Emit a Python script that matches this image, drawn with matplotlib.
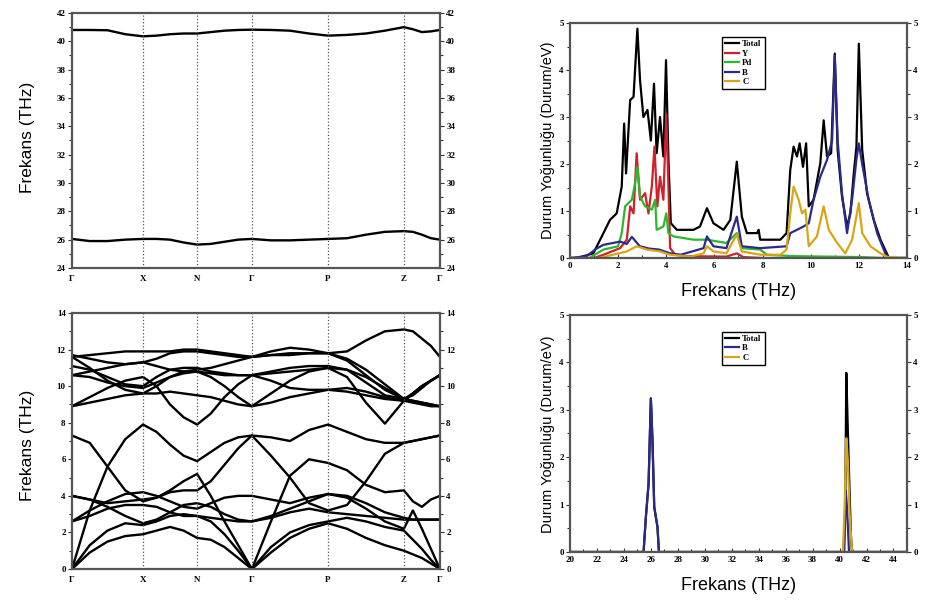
import matplotlib.pyplot as plt
from matplotlib.ticker import MultipleLocator
import numpy as np

# high symmetry path of the dispersion panels
kpoint_labels = ["Γ", "X", "N", "Γ", "P", "Z", "Γ"]
kpoint_pos = [0.0, 0.193, 0.340, 0.489, 0.696, 0.902, 1.0]
steps_per_segment = 4

# frequencies (THz) read at 4 steps per segment, 25 values per branch
high_bands = [
    [40.8, 40.8, 40.78, 40.5, 40.35, 40.4, 40.5, 40.55, 40.55, 40.65, 40.75, 40.8, 40.82,
     40.8, 40.75, 40.55, 40.4, 40.45, 40.55, 40.75, 41.0, 40.85, 40.65, 40.7, 40.8],
    [26.05, 25.9, 25.9, 26.0, 26.05, 26.05, 26.0, 25.8, 25.65, 25.7, 25.85, 26.0, 26.05,
     25.95, 25.95, 26.0, 26.05, 26.1, 26.35, 26.55, 26.6, 26.55, 26.35, 26.1, 26.0],
]

low_bands = [
    [0.0, 0.9, 1.5, 1.8, 1.9, 2.1, 2.3, 2.1, 1.7, 1.6, 1.2, 0.6, 0.0, 0.9, 1.7, 2.2, 2.5, 2.2, 1.7, 1.3, 1.0, 0.8, 0.6, 0.3, 0.0],
    [0.0, 1.3, 2.1, 2.5, 2.4, 2.6, 2.9, 3.0, 2.9, 2.6, 1.9, 1.0, 0.0, 1.2, 2.0, 2.4, 2.6, 2.8, 2.6, 2.3, 2.1, 1.6, 1.1, 0.5, 0.0],
    [0.0, 3.2, 5.6, 7.1, 7.9, 7.5, 6.8, 6.2, 5.9, 6.4, 6.9, 7.2, 7.3, 7.2, 7.0, 7.6, 7.9, 7.5, 7.1, 6.9, 6.9, 7.0, 7.1, 7.2, 7.3],
    [4.0, 3.8, 3.6, 3.7, 3.8, 3.9, 4.3, 4.8, 5.2, 4.0, 2.6, 1.3, 0.0, 2.6, 5.1, 6.0, 5.8, 5.4, 4.6, 4.2, 4.3, 3.7, 3.4, 3.8, 4.0],
    [7.3, 6.9, 5.6, 4.3, 3.7, 3.9, 4.2, 4.3, 4.3, 4.8, 5.7, 6.6, 7.3, 6.2, 5.0, 3.6, 3.2, 3.5, 4.8, 6.3, 6.9, 7.0, 7.1, 7.2, 7.3],
    [4.0, 3.8, 3.4, 2.9, 2.5, 2.7, 3.1, 3.5, 3.6, 3.4, 3.0, 2.7, 2.6, 2.8, 3.1, 3.3, 3.1, 3.0, 2.9, 2.8, 2.7, 2.7, 2.7, 2.7, 2.7],
    [2.6, 3.2, 3.7, 4.1, 4.2, 4.0, 3.7, 3.4, 3.3, 3.6, 3.9, 4.0, 4.0, 3.8, 3.6, 3.9, 4.1, 4.0, 3.6, 3.1, 2.8, 2.7, 2.7, 2.7, 2.7],
    [2.6, 2.9, 3.3, 3.5, 3.5, 3.4, 3.1, 2.9, 2.9, 2.8, 2.7, 2.6, 2.6, 2.9, 3.3, 3.7, 4.1, 3.9, 3.3, 2.6, 2.2, 3.2, 2.2, 1.1, 0.0],
    [8.9, 9.1, 9.3, 9.5, 9.6, 9.6, 9.7, 9.6, 9.5, 9.4, 9.2, 9.0, 8.9, 9.1, 9.4, 9.6, 9.8, 9.7, 9.5, 9.3, 9.2, 9.1, 9.0, 8.9, 8.9],
    [8.9, 9.4, 9.9, 10.3, 10.5, 10.0, 9.0, 8.3, 7.9, 8.5, 9.4, 10.1, 10.6, 10.7, 10.8, 10.9, 11.0, 10.5, 9.1, 7.95, 9.2, 9.6, 10.0, 10.3, 10.6],
    [10.6, 10.8, 11.0, 11.2, 11.3, 11.1, 10.9, 10.8, 10.8, 10.5, 10.0, 9.4, 8.9, 9.6, 10.3, 10.8, 11.0, 10.9, 10.2, 9.5, 9.3, 9.2, 9.1, 9.0, 8.9],
    [10.6, 10.5, 10.2, 10.0, 9.9, 10.2, 10.5, 10.7, 10.8, 10.7, 10.6, 10.6, 10.6, 10.3, 9.9, 9.8, 9.8, 9.9, 9.7, 9.4, 9.2, 9.6, 10.0, 10.3, 10.6],
    [11.1, 10.9, 10.5, 10.1, 10.0, 10.5, 10.9, 11.0, 11.0, 10.8, 10.7, 10.6, 10.6, 10.8, 11.0, 11.1, 11.1, 10.9, 10.5, 9.9, 9.3, 9.6, 10.0, 10.3, 10.6],
    [11.6, 11.0, 10.3, 9.8, 9.6, 10.0, 10.5, 10.8, 10.9, 11.0, 11.2, 11.4, 11.6, 11.9, 12.1, 12.0, 11.8, 11.5, 10.9, 10.1, 9.3, 9.2, 9.1, 9.0, 8.9],
    [11.6, 11.7, 11.8, 11.9, 11.9, 11.9, 11.9, 12.0, 12.0, 11.9, 11.8, 11.7, 11.6, 11.7, 11.7, 11.8, 11.8, 11.9, 12.5, 13.0, 13.1, 13.0, 12.6, 12.2, 11.6],
    [11.7, 11.5, 11.3, 11.2, 11.3, 11.5, 11.8, 11.9, 11.9, 11.8, 11.7, 11.6, 11.6, 11.7, 11.8, 11.8, 11.8, 11.4, 10.6, 9.8, 9.3, 9.5, 9.9, 10.3, 10.6],
]

# partial phonon DOS, (frequency THz, states/eV)
dos_total = [(0.0, 0.0), (0.3, 0.0), (0.97, 0.1), (1.39, 0.53), (1.66, 0.81), (1.94, 0.95), (2.15, 1.52),
             (2.25, 2.86), (2.33, 1.8), (2.5, 3.36), (2.64, 3.43), (2.8, 4.88), (2.91, 3.78), (3.05, 3.0),
             (3.22, 3.15), (3.36, 2.5), (3.49, 3.71), (3.6, 2.23), (3.74, 3.0), (3.88, 2.16), (3.99, 4.21),
             (4.09, 2.09), (4.19, 0.74), (4.44, 0.6), (5.13, 0.6), (5.4, 0.67), (5.69, 1.06), (5.96, 0.74),
             (6.38, 0.6), (6.66, 0.81), (6.93, 2.05), (7.14, 0.88), (7.35, 0.53), (7.77, 0.53), (7.84, 0.6),
             (7.9, 0.39), (8.74, 0.39), (9.0, 0.53), (9.15, 1.87), (9.29, 2.37), (9.43, 2.16), (9.54, 2.44),
             (9.68, 1.94), (9.81, 2.44), (9.92, 1.1), (10.12, 1.24), (10.4, 2.02), (10.54, 2.93), (10.68, 2.16),
             (10.85, 2.23), (11.0, 4.35), (11.12, 2.3), (11.3, 1.31), (11.51, 0.67), (11.65, 0.95), (11.79, 1.8),
             (11.9, 2.37), (12.0, 4.56), (12.14, 2.3), (12.34, 1.38), (12.62, 0.81), (12.9, 0.39), (13.25, 0.0),
             (14.0, 0.0)]
dos_y = [(0.0, 0.0), (1.0, 0.0), (1.39, 0.07), (2.08, 0.21), (2.36, 0.39), (2.5, 1.1), (2.64, 0.95),
         (2.77, 2.23), (2.91, 1.24), (3.12, 1.38), (3.26, 0.95), (3.4, 1.52), (3.51, 2.37), (3.63, 1.1),
         (3.74, 1.73), (3.88, 1.24), (4.0, 3.05), (4.09, 1.52), (4.16, 0.21), (4.37, 0.07), (4.85, 0.04),
         (6.5, 0.03), (6.93, 0.1), (7.2, 0.02), (8.0, 0.0), (14.0, 0.0)]
dos_pd = [(0.0, 0.0), (0.8, 0.0), (1.39, 0.18), (2.0, 0.25), (2.15, 0.53), (2.29, 1.1), (2.57, 1.24),
          (2.68, 1.52), (2.8, 1.94), (2.91, 1.31), (3.12, 1.1), (3.4, 1.03), (3.54, 1.24), (3.6, 0.6),
          (3.88, 0.67), (4.0, 0.95), (4.09, 0.53), (4.3, 0.46), (5.13, 0.39), (5.69, 0.39), (6.5, 0.32),
          (6.93, 0.53), (7.14, 0.21), (7.9, 0.18), (8.18, 0.07), (9.29, 0.04), (12.1, 0.02), (13.0, 0.0),
          (14.0, 0.0)]
dos_b = [(0.0, 0.0), (0.69, 0.04), (1.1, 0.2), (1.39, 0.28), (2.08, 0.35), (2.36, 0.3), (2.57, 0.45),
         (2.9, 0.25), (3.3, 0.2), (3.7, 0.18), (4.16, 0.1), (4.6, 0.07), (5.55, 0.21), (5.69, 0.46),
         (5.96, 0.25), (6.5, 0.21), (6.93, 0.88), (7.14, 0.25), (7.9, 0.21), (9.0, 0.25), (9.15, 0.53),
         (9.43, 0.6), (9.7, 0.67), (9.92, 0.74), (10.12, 1.24), (10.4, 1.73), (10.68, 2.09), (10.89, 2.5),
         (11.0, 4.3), (11.12, 2.5), (11.3, 1.38), (11.51, 0.53), (11.72, 1.24), (11.9, 2.1), (12.0, 2.44),
         (12.14, 2.0), (12.41, 1.24), (12.76, 0.53), (13.1, 0.1), (13.25, 0.0), (14.0, 0.0)]
dos_c = [(0.0, 0.0), (1.2, 0.0), (2.36, 0.14), (2.77, 0.25), (3.19, 0.18), (3.74, 0.14), (4.16, 0.07),
         (5.0, 0.03), (5.55, 0.1), (5.69, 0.25), (5.96, 0.14), (6.5, 0.1), (6.93, 0.5), (7.14, 0.14),
         (7.9, 0.07), (8.74, 0.07), (9.0, 0.18), (9.15, 0.95), (9.29, 1.52), (9.5, 1.24), (9.64, 0.95),
         (9.78, 1.03), (9.92, 0.25), (10.26, 0.46), (10.54, 1.1), (10.75, 0.6), (11.1, 0.32), (11.44, 0.1),
         (11.72, 0.39), (12.0, 1.17), (12.14, 0.53), (12.48, 0.25), (12.9, 0.1), (13.2, 0.02), (14.0, 0.0)]

high_total = [(20.0, 0.0), (25.46, 0.0), (25.63, 0.74), (25.83, 1.44), (26.0, 3.24), (26.12, 2.36),
              (26.25, 0.95), (26.49, 0.53), (26.6, 0.0), (40.3, 0.0), (40.42, 0.9), (40.5, 3.78),
              (40.62, 2.5), (40.75, 1.2), (40.85, 0.3), (40.92, 0.0), (45.0, 0.0)]
high_b = [(20.0, 0.0), (25.46, 0.0), (25.63, 0.74), (25.83, 1.44), (26.0, 3.24), (26.12, 2.36),
          (26.25, 0.95), (26.49, 0.53), (26.6, 0.0), (40.35, 0.0), (40.46, 1.3), (40.56, 0.9),
          (40.7, 0.0), (45.0, 0.0)]
high_c = [(20.0, 0.0), (40.25, 0.0), (40.38, 1.0), (40.5, 2.4), (40.62, 1.9), (40.75, 0.8), (40.9, 0.1),
          (40.97, 0.0), (45.0, 0.0)]

col_total = "black"
col_y = "#d0202a"
col_pd = "#2cb82c"
col_b = "#2b2a8c"
col_c = "#d9a514"

plt.rcParams["font.family"] = ["Liberation Serif", "DejaVu Serif"]
label_font = dict(family=["Liberation Sans", "DejaVu Sans"], fontweight="normal")
tick_font = dict(family=["Liberation Serif", "DejaVu Serif"], weight="bold", size=6.5)


def style_frame(ax):
    for sp in ax.spines.values():
        sp.set_color("#555555")
        sp.set_linewidth(1.6)
    ax.tick_params(which="both", direction="out", color="#333333", width=0.8,
                   left=True, right=True, labelleft=True, labelright=True, pad=1.5)
    ax.tick_params(which="major", length=3)
    ax.tick_params(which="minor", length=2)
    for lbl in ax.get_xticklabels() + ax.get_yticklabels():
        lbl.set_fontproperties(tick_font)


def draw_dispersion(ax, bands, ylo, yhi):
    kgrid = []
    for i in range(len(kpoint_pos) - 1):
        kgrid.extend(np.linspace(kpoint_pos[i], kpoint_pos[i + 1], steps_per_segment + 1)[:-1])
    kgrid.append(kpoint_pos[-1])
    for band in bands:
        ax.plot(kgrid, band, color="black", lw=1.7)
    for x in kpoint_pos[1:-1]:
        ax.axvline(x, color="#555555", ls=":", lw=0.9)
    ax.set_xlim(0, 1)
    ax.set_ylim(ylo, yhi)
    ax.set_xticks(kpoint_pos)
    ax.set_xticklabels(kpoint_labels)
    ax.yaxis.set_major_locator(MultipleLocator(2))
    ax.yaxis.set_minor_locator(MultipleLocator(1))
    style_frame(ax)
    ax.tick_params(axis="x", length=0, pad=5)


def draw_dos(ax, series, xlo, xhi, legend_y):
    for name, pts, col in series:
        f, d = zip(*pts)
        ax.plot(f, d, color=col, lw=1.6, label=name)
    ax.set_xlim(xlo, xhi)
    ax.set_ylim(0, 5)
    ax.xaxis.set_major_locator(MultipleLocator(2))
    ax.xaxis.set_minor_locator(MultipleLocator(1))
    ax.yaxis.set_major_locator(MultipleLocator(1))
    ax.yaxis.set_minor_locator(MultipleLocator(0.5))
    style_frame(ax)
    ax.tick_params(axis="x", top=False, which="both", direction="in", pad=3)
    leg = ax.legend(loc="upper left", bbox_to_anchor=(0.45, legend_y), fancybox=False,
                    edgecolor="black", framealpha=1, handlelength=1.6, handletextpad=0.4,
                    borderpad=0.35, labelspacing=0.15, borderaxespad=0,
                    prop=dict(family="Liberation Serif", weight="bold", size=6.3))
    leg.get_frame().set_linewidth(1.0)
    ax.set_xlabel("Frekans (THz)", fontsize=13, labelpad=9, **label_font)


fig = plt.figure(figsize=(9.25, 6.03), dpi=100)
ax_tl = fig.add_axes([0.0778, 0.5556, 0.3978, 0.4229])
ax_bl = fig.add_axes([0.0778, 0.0564, 0.3978, 0.4245])
ax_tr = fig.add_axes([0.6162, 0.5721, 0.3643, 0.3897])
ax_br = fig.add_axes([0.6162, 0.0846, 0.3643, 0.3930])

draw_dispersion(ax_tl, high_bands, 24, 42)
draw_dispersion(ax_bl, low_bands, 0, 14)

draw_dos(ax_tr, [("Total", dos_total, col_total), ("Y", dos_y, col_y), ("Pd", dos_pd, col_pd),
                 ("B", dos_b, col_b), ("C", dos_c, col_c)], 0, 14, 0.94)
draw_dos(ax_br, [("Total", high_total, col_total), ("B", high_b, col_b), ("C", high_c, col_c)],
         20, 45, 0.93)

fig.text(0.03, 1 - 137 / 603, "Frekans (THz)", rotation=90, ha="center", va="center", fontsize=12.5, **label_font)
fig.text(0.03, 1 - 445 / 603, "Frekans (THz)", rotation=90, ha="center", va="center", fontsize=12.5, **label_font)
fig.text(0.592, 1 - 140 / 603, "Durum Yoğunluğu (Durum/eV)", rotation=90, ha="center", va="center",
         fontsize=10.5, **label_font)
fig.text(0.592, 1 - 434 / 603, "Durum Yoğunluğu (Durum/eV)", rotation=90, ha="center", va="center",
         fontsize=10.5, **label_font)

fig.savefig("out.png", dpi=100)
